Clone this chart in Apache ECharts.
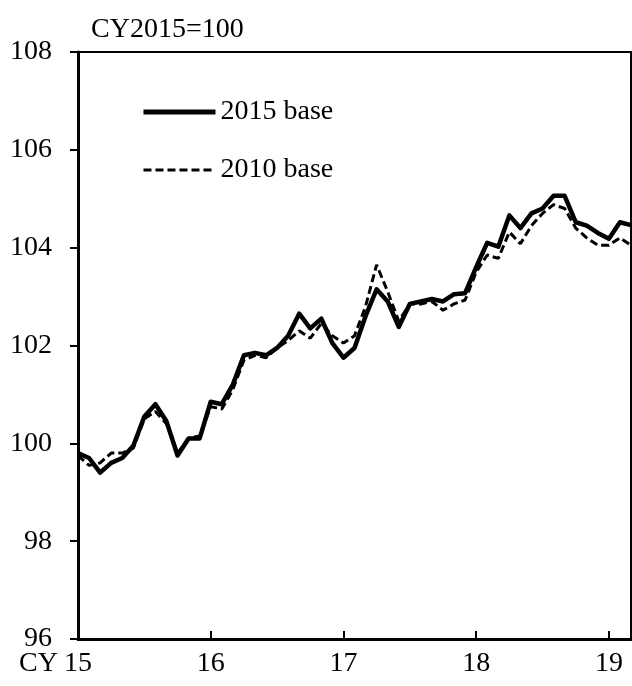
<!DOCTYPE html>
<html>
<head>
<meta charset="utf-8">
<script src="https://cdn.jsdelivr.net/npm/echarts@6/dist/echarts.min.js"></script>
<style>
  html, body { margin: 0; padding: 0; background: #fff; }
  #main { width: 632px; height: 686px; }
</style>
</head>
<body>
<div id="main"></div>
<script>
// 月次 2015/01 - 2019/03
var months = [
  '2015/01', '2015/02', '2015/03', '2015/04', '2015/05', '2015/06', '2015/07', '2015/08', '2015/09', '2015/10', '2015/11', '2015/12',
  '2016/01', '2016/02', '2016/03', '2016/04', '2016/05', '2016/06', '2016/07', '2016/08', '2016/09', '2016/10', '2016/11', '2016/12',
  '2017/01', '2017/02', '2017/03', '2017/04', '2017/05', '2017/06', '2017/07', '2017/08', '2017/09', '2017/10', '2017/11', '2017/12',
  '2018/01', '2018/02', '2018/03', '2018/04', '2018/05', '2018/06', '2018/07', '2018/08', '2018/09', '2018/10', '2018/11', '2018/12',
  '2019/01', '2019/02', '2019/03'
];

var base2015 = [
  99.8, 99.7, 99.4, 99.6, 99.7, 99.95, 100.55, 100.8, 100.45, 99.75, 100.1, 100.1,
  100.85, 100.8, 101.2, 101.8, 101.85, 101.8, 101.95, 102.2, 102.65, 102.35, 102.55, 102.05,
  101.75, 101.95, 102.6, 103.15, 102.9, 102.38, 102.85, 102.9, 102.95, 102.9, 103.05, 103.07,
  103.6, 104.1, 104.02, 104.66, 104.4, 104.7, 104.8, 105.06, 105.06, 104.52, 104.45, 104.3,
  104.18, 104.52, 104.46
];

var base2010 = [
  99.75, 99.55, 99.6, 99.8, 99.8, 99.9, 100.5, 100.65, 100.4, 99.8, 100.1, 100.15,
  100.75, 100.7, 101.1, 101.7, 101.8, 101.75, 101.95, 102.1, 102.3, 102.15, 102.45, 102.2,
  102.05, 102.2, 102.8, 103.65, 103.1, 102.5, 102.85, 102.85, 102.9, 102.72, 102.85, 102.93,
  103.5, 103.85, 103.78, 104.32, 104.08, 104.45, 104.7, 104.88, 104.8, 104.4, 104.2, 104.05,
  104.05, 104.2, 104.05
];

var yTicks = { min: 96, max: 108, step: 2 };

var font = '"Liberation Serif", "Times New Roman", serif';

var myChart = echarts.init(document.getElementById('main'));

var option = {
  animation: false,
  backgroundColor: '#fff',
  title: {
    text: 'CY2015=100',
    left: 86,
    top: 11,
    textStyle: { fontFamily: font, fontSize: 28, fontWeight: 'normal', color: '#000' }
  },
  legend: {
    orient: 'vertical',
    left: 136,
    top: 93,
    itemWidth: 72,
    itemHeight: 14,
    itemGap: 30,
    itemStyle: { opacity: 0 },
    data: [
      { name: '2015 base', lineStyle: { width: 5 } },
      { name: '2010 base', lineStyle: { width: 3, type: [8, 4] } }
    ],
    textStyle: { fontFamily: font, fontSize: 28, color: '#000' }
  },
  grid: {
    left: 78,
    right: 1,
    top: 52,
    bottom: 47,
    show: true,
    borderColor: '#000',
    borderWidth: 2
  },
  xAxis: {
    type: 'category',
    boundaryGap: false,
    data: months,
    axisLine: { lineStyle: { color: '#000', width: 3 } },
    axisTick: { inside: true, length: 8, interval: 11, lineStyle: { color: '#000', width: 2 } },
    axisLabel: {
      interval: 11,
      margin: 11,
      color: '#000',
      fontFamily: font,
      fontSize: 28,
      formatter: function (v) { return v.slice(2, 4); }
    },
    splitLine: { show: false }
  },
  yAxis: {
    type: 'value',
    min: yTicks.min,
    max: yTicks.max,
    interval: yTicks.step,
    axisLine: { show: true, lineStyle: { color: '#000', width: 3 } },
    axisTick: { show: true, length: 8, lineStyle: { color: '#000', width: 2 } },
    axisLabel: { margin: 26, color: '#000', fontFamily: font, fontSize: 28 },
    splitLine: { show: false }
  },
  graphic: [{
    type: 'text',
    left: 19,
    top: 650,
    style: { text: 'CY', font: '28px ' + font, fill: '#000' }
  }],
  series: [{
    name: '2015 base',
    type: 'line',
    data: base2015,
    symbol: 'none',
    color: '#000',
    lineStyle: { color: '#000', width: 4.5, join: 'round' }
  }, {
    name: '2010 base',
    type: 'line',
    data: base2010,
    symbol: 'none',
    color: '#000',
    lineStyle: { color: '#000', width: 3, type: [8, 4] }
  }]
};

myChart.setOption(option);
</script>
</body>
</html>
